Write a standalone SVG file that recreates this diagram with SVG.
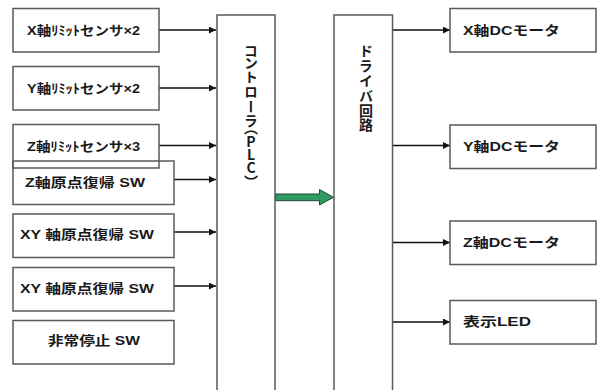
<svg xmlns="http://www.w3.org/2000/svg" width="604" height="390" viewBox="0 0 604 390">
<defs>
<style>
.box{fill:#fff;stroke:#5a5a5a;stroke-width:1.5}
.t{font-family:"Liberation Sans","Noto Sans CJK JP",sans-serif;font-size:13px;font-weight:bold;fill:#1a1a1a;dominant-baseline:central}
.v{font-family:"Noto Sans CJK JP",sans-serif;font-size:14px;font-weight:bold;fill:#1a1a1a;writing-mode:vertical-rl;text-orientation:upright}
.ca{stroke:#111;stroke-width:1.3;fill:none;marker-end:url(#ah)}
</style>
<marker id="ah" viewBox="0 0 10 10" refX="10" refY="5" markerWidth="8" markerHeight="7" markerUnits="userSpaceOnUse" orient="auto">
<path d="M0,0 L10,5 L0,10 Z" fill="#111"/>
</marker>
</defs>
<rect width="604" height="390" fill="#fff"/>

<g id="connectors">
<line class="ca" x1="159" y1="30" x2="216" y2="30"/>
<line class="ca" x1="159" y1="88" x2="216" y2="88"/>
<line class="ca" x1="159" y1="145.5" x2="216" y2="145.5"/>
<line class="ca" x1="174" y1="179.5" x2="216" y2="179.5"/>
<line class="ca" x1="174" y1="232" x2="216" y2="232"/>
<line class="ca" x1="174" y1="286" x2="216" y2="286"/>
<line class="ca" x1="392" y1="30" x2="450" y2="30"/>
<line class="ca" x1="392" y1="145.5" x2="450" y2="145.5"/>
<line class="ca" x1="392" y1="242.5" x2="450" y2="242.5"/>
<line class="ca" x1="392" y1="322" x2="450" y2="322"/>
<path d="M275.5,194 L319.5,194 L319.5,189.5 L333.5,197.3 L319.5,205 L319.5,200.7 L275.5,200.7 Z" fill="#2f9a62" stroke="#1e4a34" stroke-width="1"/>
</g>

<g id="n-xlimit"><rect class="box" x="13" y="8.5" width="146" height="43.5"/><text class="t" x="27" y="30" textLength="113" lengthAdjust="spacingAndGlyphs">X軸ﾘﾐｯﾄセンサ×2</text></g>
<g id="n-ylimit"><rect class="box" x="13" y="66.5" width="146" height="43.5"/><text class="t" x="27" y="88" textLength="113" lengthAdjust="spacingAndGlyphs">Y軸ﾘﾐｯﾄセンサ×2</text></g>
<g id="n-zlimit"><rect class="box" x="13" y="124.5" width="146" height="43.5"/><text class="t" x="27" y="146" textLength="113" lengthAdjust="spacingAndGlyphs">Z軸ﾘﾐｯﾄセンサ×3</text></g>
<g id="n-zhome"><rect class="box" x="13" y="161" width="161" height="43.5" style="fill:none"/><text class="t" x="25" y="182" textLength="120" lengthAdjust="spacingAndGlyphs">Z軸原点復帰 SW</text></g>
<g id="n-xyhome1"><rect class="box" x="13" y="214" width="161" height="43.5"/><text class="t" x="20" y="234" textLength="134" lengthAdjust="spacingAndGlyphs">XY 軸原点復帰 SW</text></g>
<g id="n-xyhome2"><rect class="box" x="13" y="267.5" width="161" height="43.5"/><text class="t" x="20" y="288" textLength="134" lengthAdjust="spacingAndGlyphs">XY 軸原点復帰 SW</text></g>
<g id="n-estop"><rect class="box" x="13" y="320.5" width="161" height="43.5"/><text class="t" x="48" y="340" textLength="92" lengthAdjust="spacingAndGlyphs">非常停止 SW</text></g>

<g id="n-plc"><path class="box" d="M217,392 L217,15 L275,15 L275,392"/>
<text class="v" x="251" y="44">コ</text><text class="v" x="251" y="56">ン</text><text class="v" x="251" y="70">ト</text><text class="v" x="251" y="85">ロ</text><text class="v" x="251" y="100">ー</text><text class="v" x="251" y="114">ラ</text><text class="v" x="251" y="121">（</text><text class="v" x="251" y="135">P</text><text class="v" x="251" y="148">L</text><text class="v" x="251" y="161">C</text><text class="v" x="251" y="174.5">）</text>
</g>
<g id="n-driver"><path class="box" d="M334,392 L334,15 L392.5,15 L392.5,392"/>
<text class="v" x="366" y="44">ド</text><text class="v" x="366" y="59">ラ</text><text class="v" x="366" y="74">イ</text><text class="v" x="366" y="89">バ</text><text class="v" x="366" y="104">回</text><text class="v" x="366" y="118">路</text>
</g>

<g id="n-xmotor"><rect class="box" x="450" y="8.5" width="146" height="43.5"/><text class="t" x="463" y="30" textLength="97" lengthAdjust="spacingAndGlyphs">X軸DCモータ</text></g>
<g id="n-ymotor"><rect class="box" x="450" y="125" width="146" height="43.5"/><text class="t" x="463" y="146" textLength="97" lengthAdjust="spacingAndGlyphs">Y軸DCモータ</text></g>
<g id="n-zmotor"><rect class="box" x="450" y="221" width="146" height="43.5"/><text class="t" x="463" y="242.5" textLength="97" lengthAdjust="spacingAndGlyphs">Z軸DCモータ</text></g>
<g id="n-led"><rect class="box" x="450" y="300.5" width="146" height="43.5"/><text class="t" x="463" y="321" textLength="68" lengthAdjust="spacingAndGlyphs">表示LED</text></g>
</svg>
